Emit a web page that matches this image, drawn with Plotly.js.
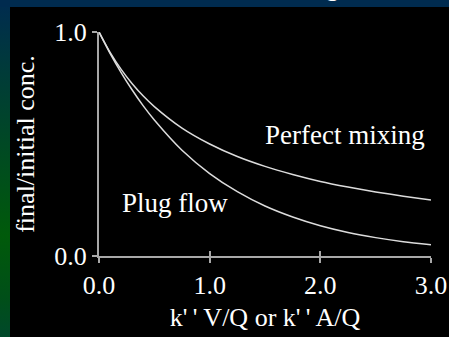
<!DOCTYPE html>
<html>
<head>
<meta charset="utf-8">
<script src="https://cdn.plot.ly/plotly-3.0.1.min.js"></script>
<style>
  html, body { margin:0; padding:0; width:449px; height:337px; overflow:hidden; }
  body { background:#002b4f; position:relative; }
  #strip { position:absolute; left:0; top:0; width:10px; height:337px;
    background: linear-gradient(to bottom, #002b50 0%, #003a3a 20%, #004a22 45%, #005a0a 70%, #004f18 88%, #00482a 100%); }
  #topband { position:absolute; left:0; top:0; width:449px; height:7px; background:#002b4f; overflow:hidden; }
  #titlefrag { position:absolute; left:326px; top:-25px; font-family:"Liberation Serif", serif; font-size:26px; color:#fff; line-height:26px; }
  #plot { position:absolute; left:10px; top:7px; width:439px; height:330px; }
</style>
</head>
<body>
<div id="strip"></div>
<div id="topband"><span id="titlefrag">g</span></div>
<div id="plot"></div>
<script>
// Values
const xValues = [0, 0.1, 0.2, 0.3, 0.4, 0.5, 0.75, 1.0, 1.25, 1.5, 1.75, 2.0, 2.25, 2.5, 2.75, 3.0];
const perfectMixing = [1.0, 0.909, 0.833, 0.769, 0.714, 0.667, 0.571, 0.500, 0.444, 0.400, 0.364, 0.333, 0.308, 0.286, 0.267, 0.250];
const plugFlow = [1.0, 0.905, 0.819, 0.741, 0.670, 0.607, 0.472, 0.368, 0.287, 0.223, 0.174, 0.135, 0.105, 0.082, 0.064, 0.050];
const xTickVals = [0, 1, 2, 3];
const xTickText = ["0.0", "1.0", "2.0", "3.0"];
const yTickVals = [0, 1];
const yTickText = ["0.0", "1.0"];
const labelMixing = "Perfect mixing";
const labelPlug = "Plug flow";
const xTitle = "k'\u2009' V/Q or k'\u2009' A/Q";
const yTitle = "final/initial conc.";

const serif = "Liberation Serif, Times New Roman, serif";
const lineColor = "#dcdcdc";
const axisColor = "#a8a8a8";

const traces = [
  { x: xValues, y: perfectMixing, mode: "lines", line: { color: lineColor, width: 1.5, shape: "spline", smoothing: 0.8 }, hoverinfo: "skip", showlegend: false },
  { x: xValues, y: plugFlow, mode: "lines", line: { color: lineColor, width: 1.5, shape: "spline", smoothing: 0.8 }, hoverinfo: "skip", showlegend: false },
  { x: [], y: [], xaxis: "x2", yaxis: "y2", mode: "lines", hoverinfo: "skip", showlegend: false }
];

const common = { showgrid: false, zeroline: false, showline: true, linecolor: axisColor, linewidth: 2,
  tickcolor: axisColor, tickwidth: 2, ticklen: 5, fixedrange: true };

const layout = {
  width: 439, height: 330,
  margin: { l: 89, r: 18, t: 25, b: 81 },
  paper_bgcolor: "#000000", plot_bgcolor: "#000000",
  font: { family: serif, color: "#ffffff", size: 26 },
  xaxis: Object.assign({}, common, {
    range: [0, 3], tickvals: xTickVals, ticktext: xTickText, ticks: "outside",
    tickfont: { family: serif, size: 26, color: "#ffffff" },
    title: { text: xTitle, font: { family: serif, size: 26, color: "#ffffff" }, standoff: 9 }
  }),
  yaxis: Object.assign({}, common, {
    range: [0, 1], tickvals: yTickVals, ticktext: yTickText, ticks: "outside",
    tickfont: { family: serif, size: 26, color: "#ffffff" },
    title: { text: yTitle, font: { family: serif, size: 26, color: "#ffffff" }, standoff: 12 }
  }),
  xaxis2: Object.assign({}, common, {
    range: [0, 3], tickvals: xTickVals, ticks: "inside", showticklabels: false,
    overlaying: "x", anchor: "y2", side: "bottom"
  }),
  yaxis2: Object.assign({}, common, {
    range: [0, 1], tickvals: yTickVals, ticks: "inside", showticklabels: false,
    overlaying: "y", anchor: "x2", side: "left"
  }),
  annotations: [
    { x: 2.22, y: 0.54, xref: "x", yref: "y", text: labelMixing, showarrow: false,
      font: { family: serif, size: 27, color: "#ffffff" } },
    { x: 0.69, y: 0.237, xref: "x", yref: "y", text: labelPlug, showarrow: false,
      font: { family: serif, size: 27, color: "#ffffff" } }
  ]
};

Plotly.newPlot("plot", traces, layout, { displayModeBar: false, staticPlot: true });
</script>
</body>
</html>
